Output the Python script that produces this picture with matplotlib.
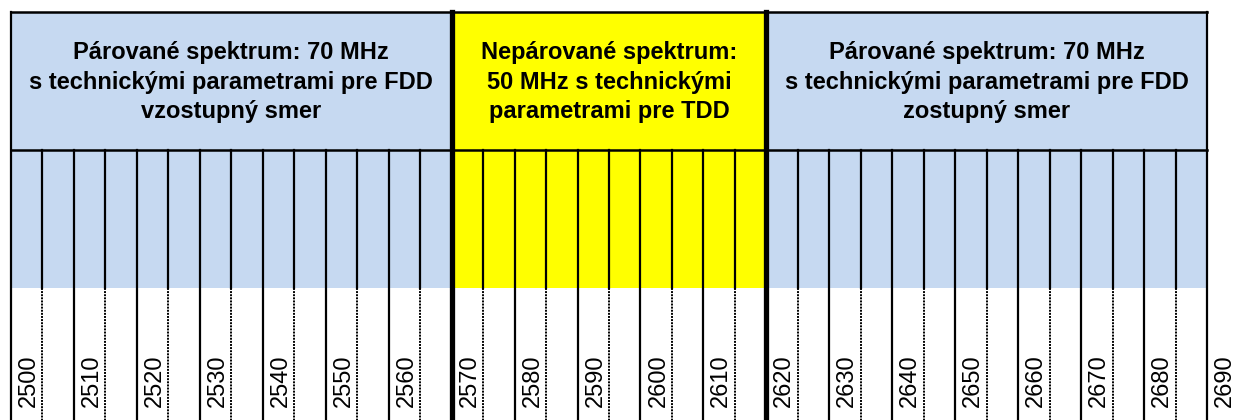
import numpy as np
import matplotlib.pyplot as plt

# band plan 2500-2690 MHz
labels = [2500, 2510, 2520, 2530, 2540, 2550, 2560, 2570, 2580, 2590,
          2600, 2610, 2620, 2630, 2640, 2650, 2660, 2670, 2680, 2690]
sub_edges = [2505, 2515, 2525, 2535, 2545, 2555, 2565, 2575, 2585, 2595,
             2605, 2615, 2625, 2635, 2645, 2655, 2665, 2675, 2685]
block_start = [2500, 2570, 2620]
block_end = [2570, 2620, 2690]
block_color = ['#C6D9F1', '#FFFF00', '#C6D9F1']
block_text = ['Párované spektrum: 70 MHz\ns technickými parametrami pre FDD\nvzostupný smer',
              'Nepárované spektrum:\n50 MHz s technickými\nparametrami pre TDD',
              'Párované spektrum: 70 MHz\ns technickými parametrami pre FDD\nzostupný smer']

plt.rcParams['font.family'] = ['Liberation Sans', 'DejaVu Sans']

W, H = 1233, 420
fig = plt.figure(figsize=(W / 100, H / 100), dpi=100)
ax = fig.add_axes([0, 0, 1, 1])
px = 1196 / 190.0
ax.set_xlim(2500 - 11 / px, 2690 + 26 / px)
ax.set_ylim(H, 0)
ax.axis('off')

top, hdr, band, bot = 12, 150, 288, H

for s, e, c, t in zip(block_start, block_end, block_color, block_text):
    ax.fill_between([s, e], top, band, color=c, lw=0, zorder=0)
    ax.text((s + e) / 2, (top + hdr) / 2 + 1, t, ha='center', va='center',
            fontsize=17, fontweight='bold', linespacing=1.37, zorder=3)

# outer frame and header line
ax.plot([2500, 2690], [top, top], color='black', lw=1.8, zorder=2)
ax.plot([2500, 2690], [hdr, hdr], color='black', lw=1.8, zorder=2)

# full lines at 10 MHz, label right of each
for f in labels:
    y0 = top if f in (2500, 2690) else hdr
    ax.plot([f, f], [y0, bot], color='black', lw=1.6, zorder=2)
    ax.text(f + 1.1, 407, str(f), rotation=90, ha='left', va='bottom',
            fontsize=17, zorder=3)

# 5 MHz lines: solid in the band, dotted below
for f in sub_edges:
    ax.plot([f, f], [hdr, band], color='black', lw=1.6, zorder=2)
    ax.plot([f, f], [band, bot], color='black', lw=1.4, ls=(0, (1, 0.6)), zorder=2)

# block borders
for f in [2570, 2620]:
    ax.plot([f, f], [top, bot], color='black', lw=3.8, zorder=4)

fig.savefig('out.png', dpi=100)
